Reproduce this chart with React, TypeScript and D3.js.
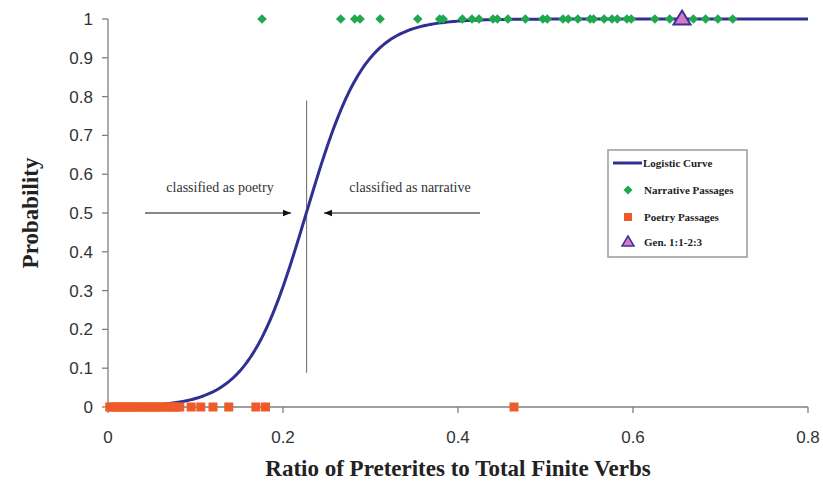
import React from "react";
import * as d3 from "d3";

const W = 823;
const H = 485;

// Logistic model parameters: p = 1 / (1 + exp(-(b0 + b1 * x)))
const logisticIntercept = -6.8;
const logisticSlope = 30;

const narrativeX = [
  0.176, 0.266, 0.282, 0.288, 0.311, 0.354, 0.379, 0.383, 0.405, 0.416, 0.424,
  0.44, 0.445, 0.457, 0.477, 0.497, 0.502, 0.52, 0.526, 0.537, 0.551, 0.555,
  0.567, 0.576, 0.582, 0.593, 0.598, 0.625, 0.642, 0.669, 0.683, 0.697, 0.714,
];
const poetryX = [
  0.002, 0.006, 0.01, 0.013, 0.017, 0.02, 0.024, 0.028, 0.031, 0.035, 0.039,
  0.043, 0.047, 0.05, 0.054, 0.058, 0.062, 0.066, 0.07, 0.074, 0.078, 0.082,
  0.095, 0.106, 0.12, 0.138, 0.169, 0.18, 0.464,
];
const genesisX = [0.656];
const xTicks = [0, 0.2, 0.4, 0.6, 0.8];
const yTicks = [0, 0.1, 0.2, 0.3, 0.4, 0.5, 0.6, 0.7, 0.8, 0.9, 1];
const cutoffX = 0.227;
const legendItems = ["Logistic Curve", "Narrative Passages", "Poetry Passages", "Gen. 1:1-2:3"];

const x = d3.scaleLinear().domain([0, 0.8]).range([108, 808]);
const y = d3.scaleLinear().domain([0, 1]).range([407, 19]);

const curveXs = d3.range(0, 0.8001, 0.002);
const logistic = (v: number) => 1 / (1 + Math.exp(-(logisticIntercept + logisticSlope * v)));
const linePath = d3
  .line<number>()
  .x((d) => x(d))
  .y((d) => y(logistic(d)))(curveXs) as string;

const GREEN = "#1fa84f";
const ORANGE = "#f05a28";
const NAVY = "#2e3192";
const AXIS = "#7f7f7f";

const diamond = (cx: number, cy: number, r: number) =>
  `M${cx},${cy - r}L${cx + r},${cy}L${cx},${cy + r}L${cx - r},${cy}Z`;
const triangle = (cx: number, cy: number, w: number, h: number) =>
  `M${cx},${cy - h * 0.6}L${cx + w / 2},${cy + h * 0.4}L${cx - w / 2},${cy + h * 0.4}Z`;

export default function App() {
  const lx = 628;
  const legendY = [163, 190, 217, 242];
  return (
    <svg width={W} height={H} style={{ position: "absolute", left: 0, top: 0, background: "#fff" }}>
      <defs>
        <marker id="ah" viewBox="0 0 10 10" refX="10" refY="5" markerWidth="8" markerHeight="8" markerUnits="userSpaceOnUse" orient="auto">
          <path d="M0,1L10,5L0,9Z" fill="#111" />
        </marker>
      </defs>
      {/* axes */}
      <line x1={x(0)} x2={x(0)} y1={y(1)} y2={y(0)} stroke={AXIS} strokeWidth={1.3} />
      <line x1={x(0)} x2={x(0.8)} y1={y(0)} y2={y(0)} stroke={AXIS} strokeWidth={1.3} />
      {yTicks.map((t) => (
        <g key={"y" + t}>
          <line x1={x(0) - 6} x2={x(0)} y1={y(t)} y2={y(t)} stroke={AXIS} strokeWidth={1.3} />
          <text x={93} y={y(t)} dy="0.35em" textAnchor="end" fontFamily="Liberation Sans, Arial, sans-serif" fontSize={17} fill="#333">
            {d3.format("")(t)}
          </text>
        </g>
      ))}
      {xTicks.map((t) => (
        <g key={"x" + t}>
          <line x1={x(t)} x2={x(t)} y1={y(0)} y2={y(0) + 6} stroke={AXIS} strokeWidth={1.3} />
          <text x={x(t)} y={443} textAnchor="middle" fontFamily="Liberation Sans, Arial, sans-serif" fontSize={17} fill="#333">
            {d3.format("")(t)}
          </text>
        </g>
      ))}
      <text transform={`translate(30,${(y(0) + y(1)) / 2}) rotate(-90)`} textAnchor="middle" dy="0.35em" fontFamily="Liberation Serif, Times New Roman, serif" fontWeight="bold" fontSize={23} fill="#222">
        Probability
      </text>
      <text x={458} y={476} textAnchor="middle" fontFamily="Liberation Serif, Times New Roman, serif" fontWeight="bold" fontSize={23} fill="#222">
        Ratio of Preterites to Total Finite Verbs
      </text>

      {/* cutoff annotation */}
      <line x1={x(cutoffX)} x2={x(cutoffX)} y1={y(0.79)} y2={y(0.088)} stroke="#666" strokeWidth={1} />
      <text x={220} y={192} textAnchor="middle" fontFamily="Liberation Serif, Times New Roman, serif" fontSize={14} fill="#333">
        classified as poetry
      </text>
      <text x={410} y={192} textAnchor="middle" fontFamily="Liberation Serif, Times New Roman, serif" fontSize={14} fill="#333">
        classified as narrative
      </text>
      <line x1={145} x2={291} y1={213} y2={213} stroke="#111" strokeWidth={1} markerEnd="url(#ah)" />
      <line x1={480} x2={324} y1={213} y2={213} stroke="#111" strokeWidth={1} markerEnd="url(#ah)" />

      {/* logistic curve */}
      <path d={linePath} fill="none" stroke={NAVY} strokeWidth={3} />
      {/* poetry squares */}
      {poetryX.map((v, i) => (
        <rect key={"p" + i} x={x(v) - 4.5} y={y(0) - 4.5} width={9} height={9} fill={ORANGE} />
      ))}
      {/* narrative diamonds */}
      {narrativeX.map((v, i) => (
        <path key={"n" + i} d={diamond(x(v), y(1), 4.8)} fill={GREEN} />
      ))}
      {genesisX.map((v, i) => (
        <path key={"g" + i} d={triangle(x(v), y(1), 17, 14)} fill="#d978c8" stroke="#3b3592" strokeWidth={2} />
      ))}

      {/* legend */}
      <rect x={608} y={150} width={139} height={107} fill="#fff" stroke="#9a9a9a" strokeWidth={1.5} />
      <line x1={613} x2={642} y1={legendY[0]} y2={legendY[0]} stroke={NAVY} strokeWidth={3} />
      <path d={diamond(lx, legendY[1], 4.5)} fill={GREEN} />
      <rect x={lx - 4} y={legendY[2] - 4} width={8} height={8} fill={ORANGE} />
      <path d={triangle(lx, legendY[3], 12, 10)} fill="#d978c8" stroke="#3b3592" strokeWidth={1.5} />
      {legendItems.map((s, i) => (
        <text key={s} x={i === 0 ? 643 : 644} y={legendY[i]} dy="0.35em" fontFamily="Liberation Serif, Times New Roman, serif" fontWeight="bold" fontSize={11} fill="#222">
          {s}
        </text>
      ))}
    </svg>
  );
}
